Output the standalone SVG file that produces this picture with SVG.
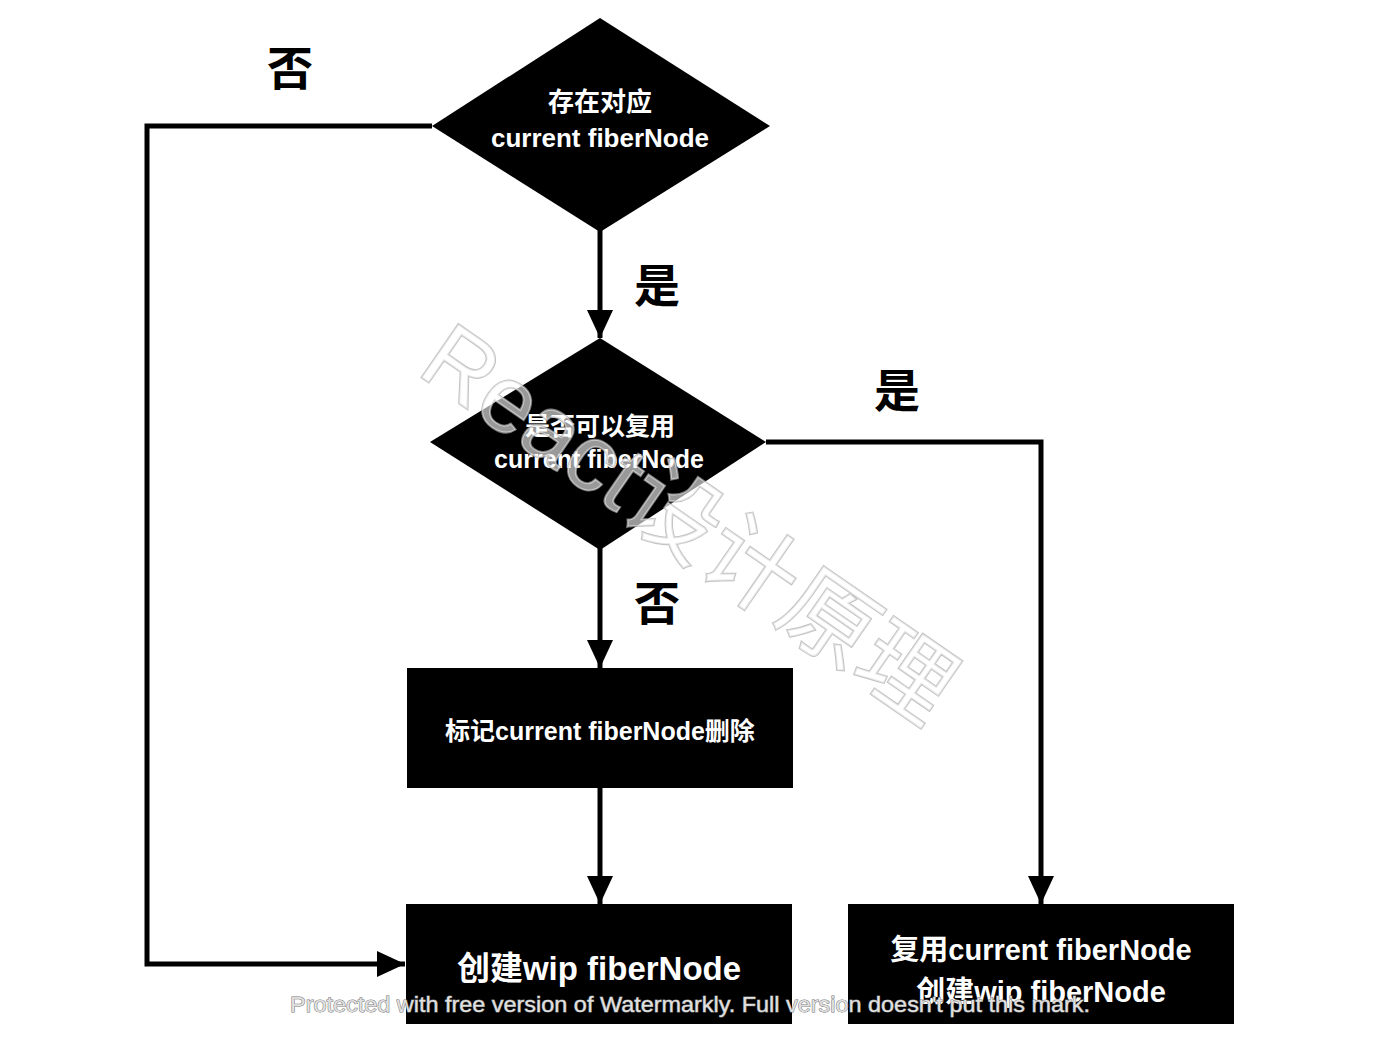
<svg xmlns="http://www.w3.org/2000/svg" width="1382" height="1043" viewBox="0 0 1382 1043">
<style>
.node{fill:#000}
.t{fill:#fff;font-family:"Liberation Sans","Noto Sans CJK SC",sans-serif;font-weight:bold;text-anchor:middle}
.lbl{fill:#000;font-family:"Noto Sans CJK SC",sans-serif;font-weight:bold;font-size:46px;text-anchor:middle}
.edge{fill:none;stroke:#000;stroke-width:5}
</style>
<defs>
<marker id="ah" markerUnits="userSpaceOnUse" markerWidth="30" markerHeight="28" refX="28" refY="13" orient="auto">
<path d="M0,0 L28,13 L0,26 Z" fill="#000"/>
</marker>
</defs>
<rect width="1382" height="1043" fill="#fff"/>
<g id="connectors">
<polyline class="edge" points="432,126 147,126 147,964 405,964" marker-end="url(#ah)"/>
<line class="edge" x1="600" y1="230" x2="600" y2="338" marker-end="url(#ah)"/>
<polyline class="edge" points="766,442 1041,442 1041,904" marker-end="url(#ah)"/>
<line class="edge" x1="600" y1="548" x2="600" y2="668" marker-end="url(#ah)"/>
<line class="edge" x1="600" y1="787" x2="600" y2="904" marker-end="url(#ah)"/>
</g>
<g id="labels">
<text class="lbl" x="290" y="85">否</text>
<text class="lbl" x="657" y="302">是</text>
<text class="lbl" x="897" y="407">是</text>
<text class="lbl" x="657" y="620">否</text>
</g>
<g id="n1">
<polygon class="node" points="600,18 770,126 600,232 432,126"/>
<text class="t" x="600" y="111" font-size="26">存在对应</text>
<text class="t" x="600" y="147" font-size="26">current fiberNode</text>
</g>
<g id="n2">
<polygon class="node" points="600,338 766,442 600,550 430,442"/>
<text class="t" x="600" y="435" font-size="25">是否可以复用</text>
<text class="t" x="599" y="468" font-size="25">current fiberNode</text>
</g>
<g id="n3">
<rect class="node" x="407" y="668" width="386" height="120"/>
<text class="t" x="600" y="740" font-size="25">标记current fiberNode删除</text>
</g>
<g id="n4">
<rect class="node" x="406" y="904" width="386" height="120"/>
<text class="t" x="599" y="980" font-size="33">创建wip fiberNode</text>
</g>
<g id="n5">
<rect class="node" x="848" y="904" width="386" height="120"/>
<text class="t" x="1041" y="960" font-size="29">复用current fiberNode</text>
<text class="t" x="1041" y="1002" font-size="29">创建wip fiberNode</text>
</g>
<g id="watermarks">
<text transform="translate(690,522) rotate(34.7)" x="0" y="34" font-family="'Liberation Sans','Noto Sans CJK SC',sans-serif" font-size="94" text-anchor="middle" fill="#fff" fill-opacity="0.6" stroke="#aaa" stroke-opacity="0.7" stroke-width="2" paint-order="stroke">React设计原理</text>
<text x="290" y="1012" textLength="800" lengthAdjust="spacingAndGlyphs" font-family="'Liberation Sans',sans-serif" font-size="22" fill="#e0e0e0" stroke="#777" stroke-width="1" paint-order="stroke">Protected with free version of Watermarkly. Full version doesn't put this mark.</text>
</g>
</svg>
